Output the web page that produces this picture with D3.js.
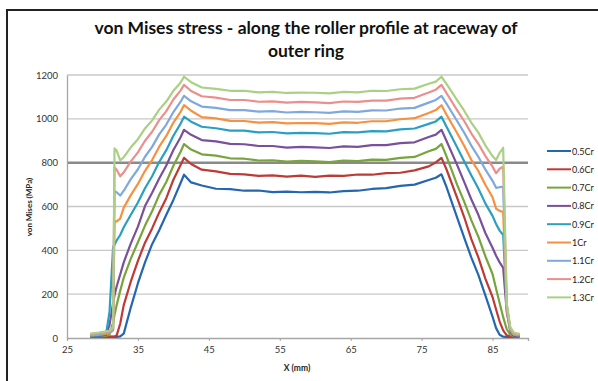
<!DOCTYPE html>
<html>
<head>
<meta charset="utf-8">
<script src="https://cdn.jsdelivr.net/npm/d3@7"></script>
<style>
body { margin: 0; background: #fff; }
text { font-family: Lato, "Liberation Sans", sans-serif; }
</style>
</head>
<body>
<div id="graphe"></div>
<script>
// positions le long du profil du rouleau (mm)
var positions = [28.3, 29.5, 30.5, 31, 31.5, 31.7, 32, 32.5, 33, 34, 35, 36, 37, 38, 39, 40, 41, 41.5,
  42.5, 44, 46, 48, 50, 52, 54, 56, 58, 60, 62, 64, 66, 68, 70, 72, 74, 76, 77, 77.8,
  78.5, 80, 81, 82, 83, 84, 85, 85.5, 86, 86.5, 87, 87.5, 88, 88.5, 88.8];

var series = ['0.5Cr', '0.6Cr', '0.7Cr', '0.8Cr', '0.9Cr', '1Cr', '1.1Cr', '1.2Cr', '1.3Cr'];
var couleurs = ['#2566b0', '#be3a37', '#77a43b', '#7a509c', '#2aa0c0', '#f7913f', '#7fa8de', '#ec8f8c', '#a9d083'];

var s05 = [5, 5, 5, 5, 5, 5, 5, 7, 20, 140, 250, 345, 428, 492, 562, 630, 706, 745,
  710, 696, 681, 679, 672, 673, 666, 668, 665, 667, 664, 670, 672, 680, 684, 694, 700, 721, 731, 747,
  690, 550, 458, 368, 288, 193, 97, 45, 15, 6, 5, 5, 5, 5, 5];
var s06 = [5, 5, 6, 6, 6, 7, 12, 65, 150, 258, 352, 435, 500, 573, 638, 722, 788, 822,
  794, 768, 760, 749, 747, 740, 742, 736, 741, 735, 741, 740, 746, 745, 752, 754, 765, 783, 801, 822,
  770, 640, 552, 452, 368, 270, 187, 130, 75, 35, 12, 8, 6, 6, 6];
var s07 = [8, 8, 10, 15, 70, 105, 150, 215, 275, 362, 437, 513, 578, 653, 712, 786, 849, 885,
  860, 838, 832, 820, 818, 810, 811, 805, 808, 806, 803, 809, 807, 814, 813, 822, 826, 852, 863, 885,
  830, 700, 622, 538, 462, 372, 292, 225, 160, 95, 40, 15, 8, 7, 7];
var s08 = [8, 10, 14, 60, 160, 195, 235, 290, 345, 432, 508, 602, 663, 728, 787, 858, 915, 950,
  927, 903, 897, 886, 884, 876, 876, 869, 872, 870, 867, 874, 872, 880, 880, 889, 893, 917, 928, 950,
  900, 790, 712, 633, 562, 478, 412, 375, 345, 320, 120, 30, 10, 8, 8];
var s09 = [10, 12, 18, 120, 415, 425, 445, 470, 505, 562, 618, 683, 738, 803, 857, 923, 977, 1010,
  987, 964, 957, 946, 946, 938, 940, 934, 936, 935, 932, 939, 938, 944, 943, 952, 956, 977, 988, 1010,
  965, 870, 807, 743, 682, 613, 557, 520, 490, 470, 150, 35, 15, 12, 12];
var s10 = [12, 15, 20, 22, 35, 530, 532, 545, 595, 652, 703, 763, 812, 873, 922, 983, 1031, 1062,
  1037, 1008, 1002, 991, 990, 983, 985, 979, 981, 980, 977, 984, 982, 989, 989, 998, 1003, 1027, 1040, 1062,
  1020, 935, 877, 813, 762, 698, 642, 590, 580, 575, 130, 35, 16, 13, 13];
var s11 = [15, 18, 24, 26, 40, 670, 665, 650, 672, 725, 770, 827, 872, 929, 974, 1031, 1077, 1105,
  1080, 1056, 1050, 1040, 1040, 1033, 1035, 1029, 1032, 1030, 1027, 1034, 1032, 1039, 1038, 1047, 1050, 1074, 1086, 1105,
  1070, 990, 937, 878, 827, 768, 717, 685, 688, 690, 140, 40, 18, 15, 15];
var s12 = [18, 22, 27, 30, 45, 778, 768, 738, 756, 806, 847, 900, 941, 994, 1035, 1088, 1129, 1155,
  1127, 1103, 1097, 1086, 1086, 1078, 1080, 1074, 1077, 1075, 1072, 1079, 1077, 1083, 1083, 1092, 1096, 1120, 1133, 1155,
  1118, 1040, 990, 934, 886, 830, 782, 752, 772, 782, 150, 45, 20, 18, 18];
var s13 = [20, 25, 30, 33, 50, 865, 855, 810, 825, 870, 907, 956, 993, 1042, 1079, 1128, 1165, 1192,
  1167, 1143, 1137, 1128, 1128, 1121, 1123, 1118, 1120, 1119, 1116, 1123, 1121, 1128, 1127, 1135, 1138, 1160, 1170, 1192,
  1160, 1085, 1037, 983, 937, 878, 830, 812, 845, 868, 160, 50, 25, 20, 20];

var valeurs = [s05, s06, s07, s08, s09, s10, s11, s12, s13];
var ticksX = [25, 35, 45, 55, 65, 75, 85];
var ticksY = [0, 200, 400, 600, 800, 1000, 1200];

var largeur = 598, hauteur = 381;
var svg = d3.select("#graphe").append("svg").attr("width", largeur).attr("height", hauteur);

var x = d3.scaleLinear().domain([25, 90]).range([67, 528]);
var y = d3.scaleLinear().domain([0, 1200]).range([338, 75]);

// cadre (seulement haut et gauche visibles)
svg.append("path").attr("d", "M7," + hauteur + " V10 H" + largeur)
  .attr("fill", "none").attr("stroke", "#222").attr("stroke-width", 2);

// titre
svg.append("text").attr("x", 306).attr("y", 34).attr("text-anchor", "middle")
  .attr("font-size", 17.5).attr("font-weight", "bold").attr("fill", "#111")
  .text("von Mises stress - along the roller profile at raceway of");
svg.append("text").attr("x", 306).attr("y", 57).attr("text-anchor", "middle")
  .attr("font-size", 17.5).attr("font-weight", "bold").attr("fill", "#111")
  .text("outer ring");

// grille horizontale
svg.append("g").selectAll("line").data(ticksY.filter(function(d) { return d > 0; })).enter()
  .append("line")
  .attr("x1", x(25)).attr("x2", x(90))
  .attr("y1", function(d) { return y(d); }).attr("y2", function(d) { return y(d); })
  .attr("stroke", function(d) { return d == 800 ? "#8a8a8a" : "#c8c8c8"; })
  .attr("stroke-width", function(d) { return d == 800 ? 2.5 : 1.3; });

// axes
var axeX = svg.append("g").attr("transform", "translate(0," + y(0) + ")")
  .call(d3.axisBottom(x).tickValues(ticksX).tickSize(3).tickPadding(5));
var axeY = svg.append("g").attr("transform", "translate(" + x(25) + ",0)")
  .call(d3.axisLeft(y).tickValues(ticksY).tickFormat(d3.format("d")).tickSize(0).tickPadding(9));
[axeX, axeY].forEach(function(a) {
  a.select(".domain").attr("stroke", "#a6a6a6").attr("stroke-width", 1.3);
  a.selectAll(".tick line").attr("stroke", "#a6a6a6");
  a.selectAll("text").attr("font-size", 9.5).attr("fill", "#333")
    .attr("font-family", "Lato, 'Liberation Sans', sans-serif");
});

svg.append("text").attr("x", 297).attr("y", 371).attr("text-anchor", "middle")
  .attr("font-size", 8.5).attr("font-weight", "bold").attr("fill", "#222").text("X (mm)");
svg.append("text").attr("transform", "translate(32,207) rotate(-90)").attr("text-anchor", "middle")
  .attr("font-size", 8).attr("font-weight", "bold").attr("fill", "#222").text("von Mises (MPa)");

// courbes
var ligne = d3.line()
  .x(function(d, i) { return x(positions[i]); })
  .y(function(d) { return y(d); });

svg.append("g").selectAll("path").data(valeurs).enter()
  .append("path")
  .attr("d", function(d) { return ligne(d); })
  .attr("fill", "none")
  .attr("stroke", function(d, i) { return couleurs[i]; })
  .attr("stroke-width", 2.2)
  .attr("stroke-linejoin", "round");

// légende
var legende = svg.append("g").selectAll("g").data(series).enter()
  .append("g")
  .attr("transform", function(d, i) { return "translate(547," + (151 + i * 18.3) + ")"; });
legende.append("line").attr("x1", 0).attr("x2", 24)
  .attr("stroke", function(d, i) { return couleurs[i]; }).attr("stroke-width", 2);
legende.append("text").attr("x", 25).attr("y", 3.5)
  .attr("font-size", 9).attr("fill", "#222").text(function(d) { return d; });
</script>
</body>
</html>
